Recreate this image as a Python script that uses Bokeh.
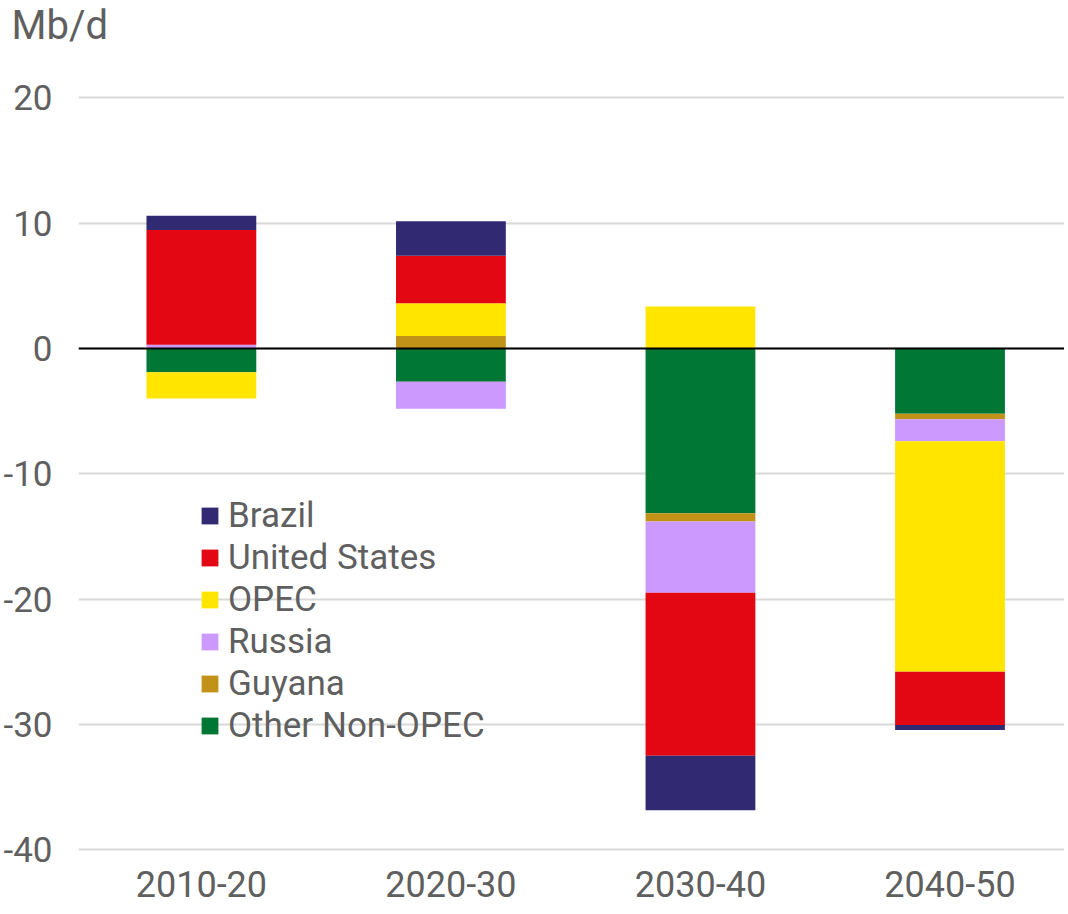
import numpy as np
from bokeh.plotting import figure
from bokeh.models import Range1d, FixedTicker, Span, Legend, LegendItem, Title
from bokeh.embed import file_html
from bokeh.resources import INLINE

categories = ["2010-20", "2020-30", "2030-40", "2040-50"]
series_names = ["Other Non-OPEC", "Guyana", "Russia", "OPEC", "United States", "Brazil"]
other_non_opec = [-1.9, -2.65, -13.15, -5.2]
guyana = [0.0, 1.0, -0.65, -0.45]
russia = [0.3, -2.15, -5.7, -1.75]
opec = [-2.1, 2.6, 3.35, -18.4]
united_states = [9.15, 3.8, -13.0, -4.25]
brazil = [1.15, 2.75, -4.35, -0.4]
colors = ["#007734", "#C09217", "#CC99FF", "#FFE500", "#E30613", "#312A72"]
y_ticks = [-40, -30, -20, -10, 0, 10, 20]

series = [other_non_opec, guyana, russia, opec, united_states, brazil]
xs = np.arange(len(categories))

FONT = "Roboto"
GRAY = "#5f5f5f"

p = figure(width=1064, height=912, output_backend="svg", toolbar_location=None,
           x_range=Range1d(-0.4924, 3.4588), y_range=Range1d(-41.18, 23.78),
           min_border_left=77, min_border_right=0, min_border_top=50, min_border_bottom=48)
p.outline_line_color = None
p.background_fill_color = "white"
p.border_fill_color = "white"

# stacked bars: positive and negative parts stacked separately
pos_base = np.zeros(len(categories))
neg_base = np.zeros(len(categories))
renderers = []
for name, vals, col in zip(series_names, series, colors):
    v = np.array(vals, dtype=float)
    pos = np.clip(v, 0, None)
    neg = np.clip(v, None, 0)
    r1 = p.vbar(x=xs, bottom=pos_base, top=pos_base + pos, width=0.44,
                fill_color=col, line_color=None)
    r2 = p.vbar(x=xs, bottom=neg_base + neg, top=neg_base, width=0.44,
                fill_color=col, line_color=None)
    pos_base = pos_base + pos
    neg_base = neg_base + neg
    renderers.append((name, r1, r2))

p.add_layout(Span(location=0, dimension="width", line_color="black", line_width=2))

# axes
p.xaxis.ticker = FixedTicker(ticks=list(xs))
p.xaxis.major_label_overrides = {int(i): c for i, c in zip(xs, categories)}
p.yaxis.ticker = FixedTicker(ticks=y_ticks)
p.yaxis.major_label_overrides = {t: str(t) for t in y_ticks}
for ax in (p.xaxis[0], p.yaxis[0]):
    ax.axis_line_color = None
    ax.major_tick_line_color = None
    ax.minor_tick_line_color = None
    ax.major_tick_out = 0
    ax.major_tick_in = 0
    ax.major_label_text_font = FONT
    ax.major_label_text_color = GRAY
p.xaxis.major_label_text_font_size = "36px"
p.xaxis.major_label_standoff = 6
p.yaxis.major_label_text_font_size = "35px"
p.yaxis.major_label_standoff = 26

p.xgrid.grid_line_color = None
p.ygrid.ticker = FixedTicker(ticks=y_ticks)
p.ygrid.grid_line_color = "#d9d9d9"
p.ygrid.grid_line_width = 2

# legend (reverse order: Brazil on top)
items = [LegendItem(label=name, renderers=[r1]) for name, r1, r2 in reversed(renderers)]
legend = Legend(items=items, location=(121, 118), orientation="vertical")
legend.label_text_font = FONT
legend.label_text_font_size = "35px"
legend.label_text_color = GRAY
legend.glyph_width = 21
legend.glyph_height = 21
legend.label_standoff = 8
legend.spacing = 1
legend.padding = 0
legend.margin = 0
legend.border_line_color = None
legend.background_fill_alpha = 0
p.add_layout(legend, "center")

t = Title(text="Mb/d", align="left", offset=-67, text_font=FONT, vertical_align="top",
          text_font_size="40px", text_color=GRAY, text_font_style="normal", standoff=0)
p.add_layout(t, "above")

open("out.html", "w").write(file_html(p, INLINE))
